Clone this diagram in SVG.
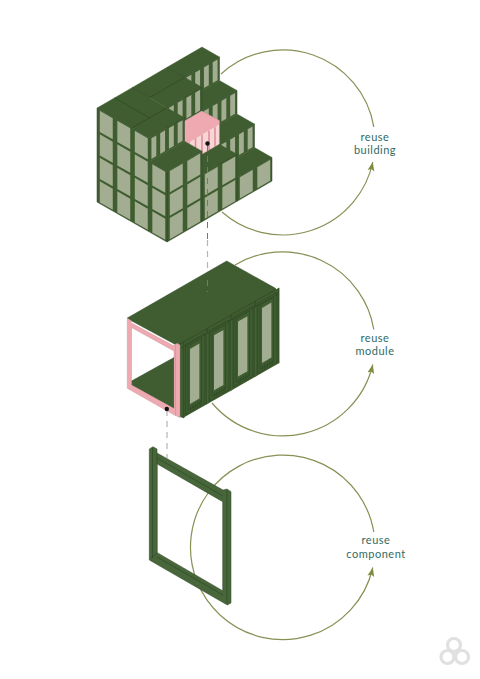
<svg xmlns="http://www.w3.org/2000/svg" width="480" height="679" viewBox="0 0 480 679">
<style>
.f{fill:#3f5d30;stroke:#3f5d30;stroke-width:.4;vector-effect:non-scaling-stroke}
.g{fill:#3f5d30;stroke:#2f4726;stroke-width:.5;vector-effect:non-scaling-stroke}
.w{fill:#a2ad91;stroke:none}
.l{fill:none;stroke:#2c4324;stroke-width:.6;vector-effect:non-scaling-stroke}
.arc{fill:none;stroke:#8a8f55;stroke-width:1.2}
.dash{fill:none;stroke:#b5b5b5;stroke-width:1.2;stroke-dasharray:6 5}
.dashd{fill:none;stroke:#6f7d66;stroke-width:1;stroke-dasharray:6 5}
.p{fill:#efa9b0;stroke:#b98a8e;stroke-width:.4}
.t{font-family:Lato,"Liberation Sans",sans-serif;font-size:11px;fill:#2f6b66;text-anchor:middle;letter-spacing:.5px}
.ring{fill:none;stroke:#e0e0e0;stroke-width:3.2}
</style>
<defs>
<marker id="ah" markerWidth="10" markerHeight="8" refX="9" refY="4" orient="auto" markerUnits="userSpaceOnUse">
<path d="M0 .6L9 4L0 7.4L1.8 4Z" fill="#7f8c3f"/>
</marker>
<rect id="c" class="w" x=".16" y=".05" width=".74" height=".9"/>
<g id="s"><rect class="w" x=".11" y=".06" width=".28" height=".88"/><rect class="w" x=".61" y=".06" width=".28" height=".88"/></g>
<g id="bay">
<rect x="0" y="-75.5" width="1" height="75.5" style="fill:#3f5d30"/>
<path class="l" d="M.02 -75V0M.98 -75V0"/>
<rect class="l" x=".1" y="-72" width=".8" height="70"/>
<rect class="l" x=".2" y="-69" width=".56" height="64"/>
<rect class="w" x=".28" y="-65" width=".39" height="55"/>
<path class="l" d="M.3 -8V-3M.4 -8V-3M.5 -8V-3M.6 -8V-3M.7 -8V-3"/>
</g>
</defs>

<g id="connectors">
<path class="arc" d="M221 74A92 92 0 0 1 373.8 127"/>
<path class="arc" marker-end="url(#ah)" d="M222 212A92 92 0 0 0 372.8 162"/>
<path class="arc" d="M235 265A92.5 92.5 0 0 1 373.8 329.5"/>
<path class="arc" marker-end="url(#ah)" d="M212 403A92.5 92.5 0 0 0 372.8 364.5"/>
<path class="arc" d="M373.8 532A92.3 92.3 0 1 0 220 615"/>
<path class="arc" d="M220 615A92.3 92.3 0 0 0 372.8 567.5" marker-end="url(#ah)"/>
</g>

<g id="building">
<g transform="matrix(17.5,10,17.5,-10.17,97,108)"><rect class="f" x="0" y="4" width="1" height="2"/></g>
<g transform="matrix(17.5,-10.17,0,-23.5,114.5,212)"><rect class="g" x="4" y="3" width="2" height="1"/><use href="#s" x="4" y="3"/><use href="#s" x="5" y="3"/></g>
<g transform="matrix(17.5,10,17.5,-10.17,97,131.5)"><rect class="f" x="1" y="4" width="1" height="2"/></g>
<g transform="matrix(17.5,-10.17,0,-23.5,132,222)"><rect class="g" x="4" y="2" width="2" height="1"/><use href="#s" x="4" y="2"/><use href="#s" x="5" y="2"/></g>
<g transform="matrix(17.5,10,17.5,-10.17,97,155)"><rect class="f" x="2" y="4" width="1" height="2"/></g>
<g transform="matrix(17.5,-10.17,0,-23.5,149.5,232)"><rect class="g" x="4" y="1" width="2" height="1"/><use href="#s" x="4" y="1"/><use href="#s" x="5" y="1"/></g>
<g transform="matrix(17.5,10,17.5,-10.17,97,178.5)"><rect class="f" x="3" y="4" width="1" height="2"/></g>
<g transform="matrix(17.5,-10.17,0,-23.5,167,242)"><rect class="g" x="4" y="0" width="2" height="1"/><use href="#c" x="4" y="0"/><use href="#c" x="5" y="0"/></g>
<g transform="matrix(17.5,10,17.5,-10.17,97,108)"><rect class="f" x="0" y="2" width="2" height="2"/><path class="l" d="M1 2V4M0 4H1"/></g>
<g transform="matrix(17.5,-10.17,0,-23.5,132,222)"><rect class="g" x="2" y="3" width="2" height="1"/><use href="#s" x="2" y="3"/><use href="#s" x="3" y="3"/></g>
<g id="pink-module">
<path class="p" d="M184.5 121L202 111L219.5 120.5V144L202 154.5L184.5 144Z"/>
<path fill="#f8d6d7" d="M190 141.7L219 124.5V144L202 154L190 147Z"/>
<path fill="none" stroke="#d98c95" stroke-width="1.5" d="M195.5 138.5V150M202 134.8V154M209 130.7V150M215 127.2V146.5"/>
</g>
<g transform="matrix(17.5,10,17.5,-10.17,97,155)"><rect class="f" x="3" y="2" width="1" height="2"/></g>
<g transform="matrix(17.5,-10.17,0,-23.5,167,242)"><rect class="g" x="2" y="0" width="2" height="2"/><use href="#c" x="2" y="0"/><use href="#c" x="3" y="0"/><use href="#c" x="2" y="1"/><use href="#c" x="3" y="1"/></g>
<g transform="matrix(17.5,10,17.5,-10.17,97,108)"><rect class="f" x="0" y="0" width="3" height="2"/><path class="l" d="M2 0V2M0 1H2M0 2H1"/></g>
<g transform="matrix(17.5,-10.17,0,-23.5,149.5,232)"><rect class="g" x="0" y="3" width="2" height="1"/><use href="#s" x="0" y="3"/><use href="#s" x="1" y="3"/></g>
<g transform="matrix(17.5,10,17.5,-10.17,97,131.5)"><rect class="f" x="3" y="0" width="1" height="2"/></g>
<g transform="matrix(17.5,-10.17,0,-23.5,167,242)"><rect class="g" x="0" y="0" width="2" height="3"/><use href="#c" x="0" y="0"/><use href="#c" x="1" y="0"/><use href="#c" x="0" y="1"/><use href="#c" x="1" y="1"/><use href="#c" x="0" y="2"/><use href="#c" x="1" y="2"/></g>
<g transform="matrix(17.5,10,0,-23.5,97,202)">
<path class="g" d="M0 0V4H3V3H4V0Z"/>
<use href="#c" x="0" y="0"/><use href="#c" x="1" y="0"/><use href="#c" x="2" y="0"/><use href="#c" x="3" y="0"/>
<use href="#c" x="0" y="1"/><use href="#c" x="1" y="1"/><use href="#c" x="2" y="1"/><use href="#c" x="3" y="1"/>
<use href="#c" x="0" y="2"/><use href="#c" x="1" y="2"/><use href="#c" x="2" y="2"/><use href="#c" x="3" y="2"/>
<use href="#c" x="0" y="3"/><use href="#c" x="1" y="3"/><use href="#c" x="2" y="3"/>
</g>
</g>

<g id="module">
<path class="g" d="M226.7 261L275 288L278 291V295L180 347L130 320L127.3 318Z"/>
<path class="g" d="M131.5 381L174 357.5V408.5L131.5 385Z"/>
<path class="g" d="M178 345L184 342V418L178 416Z"/>
<g transform="matrix(24,-13.65,0,1,183.3,417.7)">
<use href="#bay" x="0"/><use href="#bay" x="1"/><use href="#bay" x="2"/><use href="#bay" x="3"/>
</g>
<path class="l" d="M179.3 344.3L275 290M181 348L278 294"/>
<path class="p" fill-rule="evenodd" d="M127.3 318.3L131 320.5V322.7L173 345.5L177.5 343.3L180 345V417.5L174.3 415L127.3 388.3ZM131.5 327.5V385L174 408.5V351Z"/>
<path fill="none" stroke="#b98a8e" stroke-width=".5" d="M175.5 345.5V415.5"/>
</g>

<g id="frame">
<path class="g" fill-rule="evenodd" style="fill:#47663a" d="M149.3 449L153 446.7L157 449V453L223 490L227 489L231 491.7V603L227.3 605L149.3 560ZM157.3 464V552.7L222.7 590.7V501.7Z"/>
<path class="l" d="M157 453V464M157 458L223 496M152.5 448V558M227 490V604M157 552.7L151 558M157 557L223 595"/>
</g>

<g id="guides">
<path class="dashd" d="M207.5 145V240"/>
<path class="dash" d="M207.5 240V270"/>
<path class="dashd" d="M207.5 280V292"/>
<path class="dash" d="M167 410V458"/>
<circle cx="207.5" cy="143.5" r="2.2" fill="#111"/>
<circle cx="166.8" cy="409" r="2.2" fill="#111"/>
</g>

<g id="labels">
<text class="t" x="375" y="140.5">reuse</text>
<text class="t" x="375" y="153.8">building</text>
<text class="t" x="375" y="341.5">reuse</text>
<text class="t" x="375" y="354.8">module</text>
<text class="t" x="376" y="544">reuse</text>
<text class="t" x="376" y="558">component</text>
</g>

<g id="logo">
<circle class="ring" cx="454" cy="645" r="6.5"/>
<circle class="ring" cx="447.5" cy="657" r="6.5"/>
<circle class="ring" cx="462" cy="657" r="6.5"/>
</g>
</svg>
